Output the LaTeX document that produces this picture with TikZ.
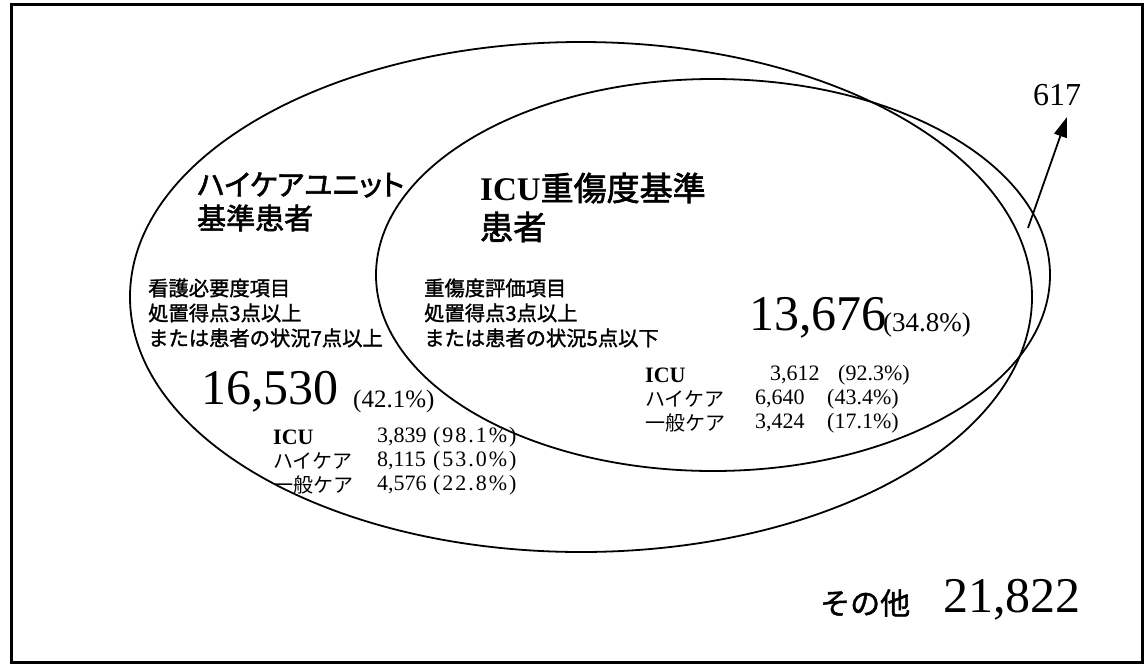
\documentclass[tikz,border=0pt]{standalone}
\usepackage{fontspec}
\setmainfont{Liberation Serif}
\newfontfamily\jpt[FakeBold=2,RawFeature=+palt]{Noto Sans CJK JP}
\newfontfamily\jpb[FakeBold=1.5]{Noto Sans CJK JP}
\newfontfamily\jpm{Noto Sans CJK JP}
\newfontfamily\pctwide[LetterSpace=9]{Liberation Serif}
\usetikzlibrary{shapes.geometric,arrows.meta}
\begin{document}
\begin{tikzpicture}[x=1pt,y=-1pt,
  venn/.style={ellipse,draw,line width=1.8pt,inner sep=0pt},
  lbl/.style={anchor=west,inner sep=0pt},
  ttl/.style={lbl,font=\jpt\fontsize{29}{34}\selectfont},
  crit/.style={lbl,font=\jpb\fontsize{20.3}{24}\selectfont},
  big/.style={lbl,font=\fontsize{50}{56}\selectfont},
  pct/.style={lbl,font=\fontsize{25}{30}\selectfont},
  row/.style={lbl,font=\fontsize{22}{26}\selectfont},
  kana/.style={lbl,font=\jpm\fontsize{20}{24}\selectfont},
  lpct/.style={lbl,font=\pctwide\fontsize{22}{26}\selectfont},
  arr/.style={line width=1.8pt,-{Triangle[length=20pt,width=13pt]}}]
\useasboundingbox (0,0) rectangle (1148,667);
\draw[line width=3pt] (11,4) rectangle (1142,662);
% ellipses
\node[venn,minimum width=902pt,minimum height=510pt] (hcu) at (581,297) {};
\node[venn,minimum width=674pt,minimum height=392pt] (icu) at (713,275) {};
% titles
\node[ttl] (t1a) at (197,185) {ハイケアユニット};
\node[ttl] (t1b) at (197,218) {基準患者};
\node[lbl,font=\fontsize{33}{38}\selectfont] (t2a) at (480,188) {\textbf{ICU}{\jpt 重傷度基準}};
\node[lbl,font=\jpt\fontsize{33}{38}\selectfont] (t2b) at (480,227) {患者};
% criteria
\node[crit] (c1a) at (148,288) {看護必要度項目};
\node[crit] (c1b) at (148,313) {処置得点3点以上};
\node[crit] (c1c) at (148,338) {または患者の状況7点以上};
\node[crit] (c2a) at (424,288) {重傷度評価項目};
\node[crit] (c2b) at (424,313) {処置得点3点以上};
\node[crit] (c2c) at (424,338) {または患者の状況5点以下};
% big numbers
\node[big] (n1) at (201,392) {16,530};
\node[pct] (p1) at (353,401) {(42.1\%)};
\node[big] (n2) at (749,318) {13,676};
\node[pct,font=\fontsize{27}{30}\selectfont] (p2) at (883,325) {(34.8\%)};
% left table
\node[row] (l1a) at (273,437) {\textbf{ICU}};
\node[row] (l1b) at (377,437) {3,839};
\node[lpct] (l1c) at (433,437) {(98.1\%)};
\node[kana] (l2a) at (273,461) {ハイケア};
\node[row] (l2b) at (377,461) {8,115};
\node[lpct] (l2c) at (433,461) {(53.0\%)};
\node[kana] (l3a) at (273,485) {一般ケア};
\node[row] (l3b) at (377,485) {4,576};
\node[lpct] (l3c) at (433,485) {(22.8\%)};
% right table
\node[row] (r1a) at (645,375) {\textbf{ICU}};
\node[row] (r1b) at (770,375) {3,612};
\node[row] (r1c) at (838,375) {(92.3\%)};
\node[kana] (r2a) at (645,399) {ハイケア};
\node[row] (r2b) at (755,399) {6,640};
\node[row] (r2c) at (827,399) {(43.4\%)};
\node[kana] (r3a) at (645,423) {一般ケア};
\node[row] (r3b) at (755,423) {3,424};
\node[row] (r3c) at (827,423) {(17.1\%)};
% others
\node[lbl,font=\jpb\fontsize{30}{34}\selectfont] (oth) at (820,603) {その他};
\node[big] (othn) at (943,600) {21,822};
% 617 and arrow
\node[lbl,font=\fontsize{32}{36}\selectfont] (n617) at (1033,95) {617};
\coordinate (aS) at (1028,228);
\coordinate (aE) at (1067,117);
\draw[arr] (aS) -- (aE);
\end{tikzpicture}
\end{document}
